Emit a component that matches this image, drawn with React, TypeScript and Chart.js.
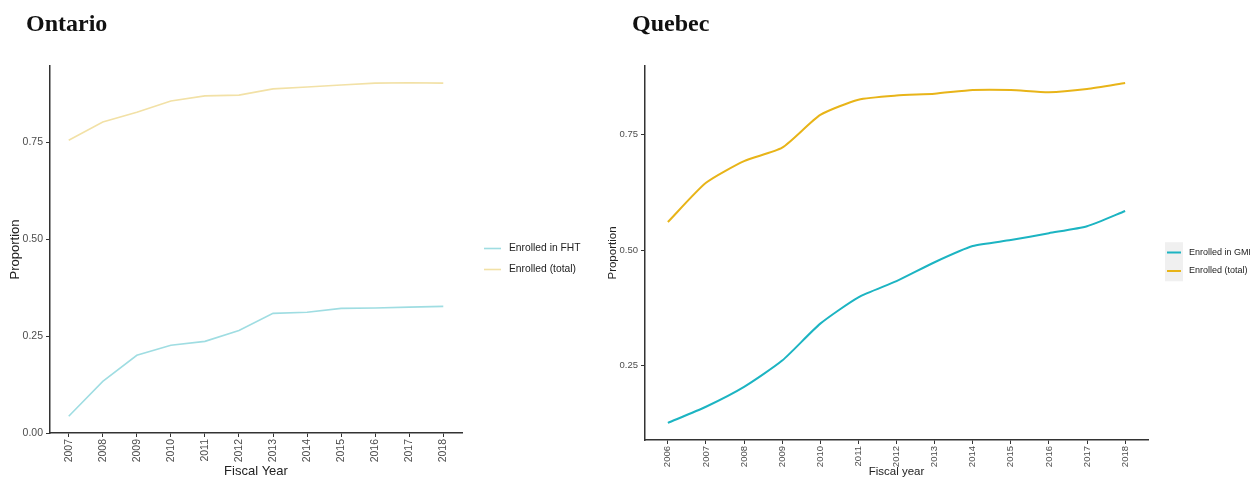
import React, { useEffect, useRef } from "react";
import { Chart, registerables } from "chart.js";

Chart.register(...registerables);

// Ontario: fiscal years 2007–2018
const ontarioYears = [2007, 2008, 2009, 2010, 2011, 2012, 2013, 2014, 2015, 2016, 2017, 2018];
const ontarioFHT = [0.044, 0.134, 0.201, 0.227, 0.237, 0.265, 0.309, 0.312, 0.322, 0.323, 0.325, 0.327];
const ontarioTotal = [0.755, 0.802, 0.827, 0.856, 0.869, 0.871, 0.887, 0.892, 0.897, 0.902, 0.903, 0.902];
const ontarioYTicks = [0, 0.25, 0.5, 0.75];
const ontarioLabels = ["Enrolled in FHT", "Enrolled (total)"];

// Quebec: fiscal years 2006–2018
const quebecYears = [2006, 2007, 2008, 2009, 2010, 2011, 2012, 2013, 2014, 2015, 2016, 2017, 2018];
const quebecGMF = [0.126, 0.161, 0.204, 0.261, 0.341, 0.398, 0.433, 0.474, 0.509, 0.522, 0.537, 0.552, 0.585];
const quebecTotal = [0.561, 0.646, 0.693, 0.722, 0.793, 0.826, 0.835, 0.839, 0.847, 0.847, 0.842, 0.849, 0.862];
const quebecYTicks = [0.25, 0.5, 0.75];
const quebecLabels = ["Enrolled in GMF", "Enrolled (total)"];

const SANS = "'Liberation Sans', Arial, Helvetica, sans-serif";

// Legend drawn beside the plot panel, ggplot-style (line keys, optional grey key background)
const sideLegend = {
  id: "sideLegend",
  afterDraw(chart: any, _args: any, opts: any) {
    const { ctx, chartArea } = chart;
    const x0 = chartArea.right + opts.dx;
    ctx.save();
    if (opts.keyBg) {
      ctx.fillStyle = opts.keyBg;
      ctx.fillRect(x0 - 2, opts.y0 - opts.gap / 2 - 1, opts.keyWidth + 4, opts.gap * chart.data.datasets.length + 2);
    }
    chart.data.datasets.forEach((ds: any, i: number) => {
      const y = opts.y0 + i * opts.gap;
      ctx.strokeStyle = ds.borderColor;
      ctx.lineWidth = opts.lineWidth;
      ctx.beginPath();
      ctx.moveTo(x0, y);
      ctx.lineTo(x0 + opts.keyWidth, y);
      ctx.stroke();
      ctx.fillStyle = "#222";
      ctx.font = `${opts.fontSize}px ${SANS}`;
      ctx.textBaseline = "middle";
      ctx.textAlign = "left";
      ctx.fillText(ds.label, x0 + opts.keyWidth + opts.textGap, y);
    });
    ctx.restore();
  },
};

type PanelProps = {
  years: number[];
  series: number[][];
  labels: string[];
  colors: string[];
  yTicks: number[];
  yMin: number;
  yMax: number;
  xPad: number;
  width: number;
  height: number;
  padding: { left: number; right: number; top: number; bottom: number };
  yAxisWidth: number;
  xAxisHeight: number;
  tickFont: number;
  xTickFont: number;
  titleFont: number;
  yTitlePad: number;
  lineWidth: number;
  tension: number;
  xTitle: string;
  legend: any;
};

function Panel(p: PanelProps) {
  const ref = useRef<HTMLCanvasElement | null>(null);
  useEffect(() => {
    if (!ref.current) return;
    const axisColor = "#333333";
    const tickColor = "#4d4d4d";
    const chart = new Chart(ref.current, {
      type: "line",
      data: {
        datasets: p.series.map((vals, si) => ({
          label: p.labels[si],
          data: p.years.map((x, i) => ({ x, y: vals[i] })),
          borderColor: p.colors[si],
          backgroundColor: p.colors[si],
          borderWidth: p.lineWidth,
          pointRadius: 0,
          tension: p.tension,
          fill: false,
        })),
      },
      options: {
        responsive: false,
        animation: false,
        devicePixelRatio: 1,
        layout: { padding: p.padding },
        plugins: {
          legend: { display: false },
          tooltip: { enabled: false },
          sideLegend: p.legend,
        } as any,
        scales: {
          x: {
            type: "linear",
            min: p.years[0] - p.xPad,
            max: p.years[p.years.length - 1] + p.xPad,
            afterBuildTicks: (s: any) => {
              s.ticks = p.years.map((v) => ({ value: v }));
            },
            afterFit: (s: any) => {
              s.height = p.xAxisHeight;
            },
            ticks: {
              autoSkip: false,
              minRotation: 90,
              maxRotation: 90,
              padding: 2,
              color: tickColor,
              font: { family: SANS, size: p.xTickFont },
              callback: (v: any) => String(v),
            },
            grid: {
              display: true,
              drawOnChartArea: false,
              drawTicks: true,
              tickLength: 4,
              color: axisColor,
              lineWidth: 1,
            },
            border: { display: true, color: axisColor, width: 1.5 },
            title: {
              display: true,
              text: p.xTitle,
              color: "#222",
              font: { family: SANS, size: p.titleFont, lineHeight: 1 },
              padding: { top: 0, bottom: 0 },
            },
          },
          y: {
            type: "linear",
            min: p.yMin,
            max: p.yMax,
            afterBuildTicks: (s: any) => {
              s.ticks = p.yTicks.map((v) => ({ value: v }));
            },
            afterFit: (s: any) => {
              s.width = p.yAxisWidth;
            },
            ticks: {
              padding: 3,
              color: tickColor,
              font: { family: SANS, size: p.tickFont },
              callback: (v: any) => Number(v).toFixed(2),
            },
            grid: {
              display: true,
              drawOnChartArea: false,
              drawTicks: true,
              tickLength: 4,
              color: axisColor,
              lineWidth: 1,
            },
            border: { display: true, color: axisColor, width: 1.5 },
            title: {
              display: true,
              text: "Proportion",
              color: "#222",
              font: { family: SANS, size: p.titleFont, lineHeight: 1 },
              padding: { top: p.yTitlePad, bottom: 0 },
            },
          },
        },
      },
      plugins: [sideLegend],
    });
    return () => chart.destroy();
  }, []);
  return <canvas ref={ref} width={p.width} height={p.height} style={{ display: "block" }} />;
}

const titleStyle: React.CSSProperties = {
  position: "absolute",
  top: 8,
  fontFamily: "'Liberation Serif', 'Times New Roman', serif",
  fontWeight: "bold",
  fontSize: 24,
  color: "#111",
  lineHeight: "30px",
};

export default function App() {
  return (
    <div
      style={{
        position: "fixed",
        left: 0,
        top: 0,
        width: 1250,
        height: 478,
        background: "#fff",
        overflow: "hidden",
      }}
    >
      <div style={{ position: "absolute", left: 0, top: 0 }}>
        <Panel
          years={ontarioYears}
          series={[ontarioFHT, ontarioTotal]}
          labels={ontarioLabels}
          colors={["#9fdde2", "#f2e1a6"]}
          yTicks={ontarioYTicks}
          yMin={0.001}
          yMax={0.946}
          xPad={0.55}
          width={600}
          height={478}
          padding={{ left: 0, right: 138, top: 66, bottom: 0 }}
          yAxisWidth={50}
          xAxisHeight={45}
          tickFont={10.5}
          xTickFont={10.5}
          titleFont={13}
          yTitlePad={8.5}
          lineWidth={1.6}
          tension={0}
          xTitle="Fiscal Year"
          legend={{ dx: 22, y0: 248.5, gap: 21, keyWidth: 17, textGap: 8, fontSize: 10.3, lineWidth: 1.6 }}
        />
      </div>
      <div style={{ ...titleStyle, left: 26 }}>Ontario</div>
      <div style={{ position: "absolute", left: 600, top: 0 }}>
        <Panel
          years={quebecYears}
          series={[quebecGMF, quebecTotal]}
          labels={quebecLabels}
          colors={["#1cb4c2", "#e8b418"]}
          yTicks={quebecYTicks}
          yMin={0.089}
          yMax={0.899}
          xPad={0.6}
          width={650}
          height={478}
          padding={{ left: 5, right: 102, top: 66, bottom: 0 }}
          yAxisWidth={40}
          xAxisHeight={38}
          tickFont={9.5}
          xTickFont={9.5}
          titleFont={11.5}
          yTitlePad={2.5}
          lineWidth={2}
          tension={0.2}
          xTitle="Fiscal year"
          legend={{ dx: 19, y0: 252.5, gap: 18.5, keyWidth: 14, textGap: 8, fontSize: 9, lineWidth: 2, keyBg: "#f0f0f0" }}
        />
      </div>
      <div style={{ ...titleStyle, left: 632 }}>Quebec</div>
    </div>
  );
}
